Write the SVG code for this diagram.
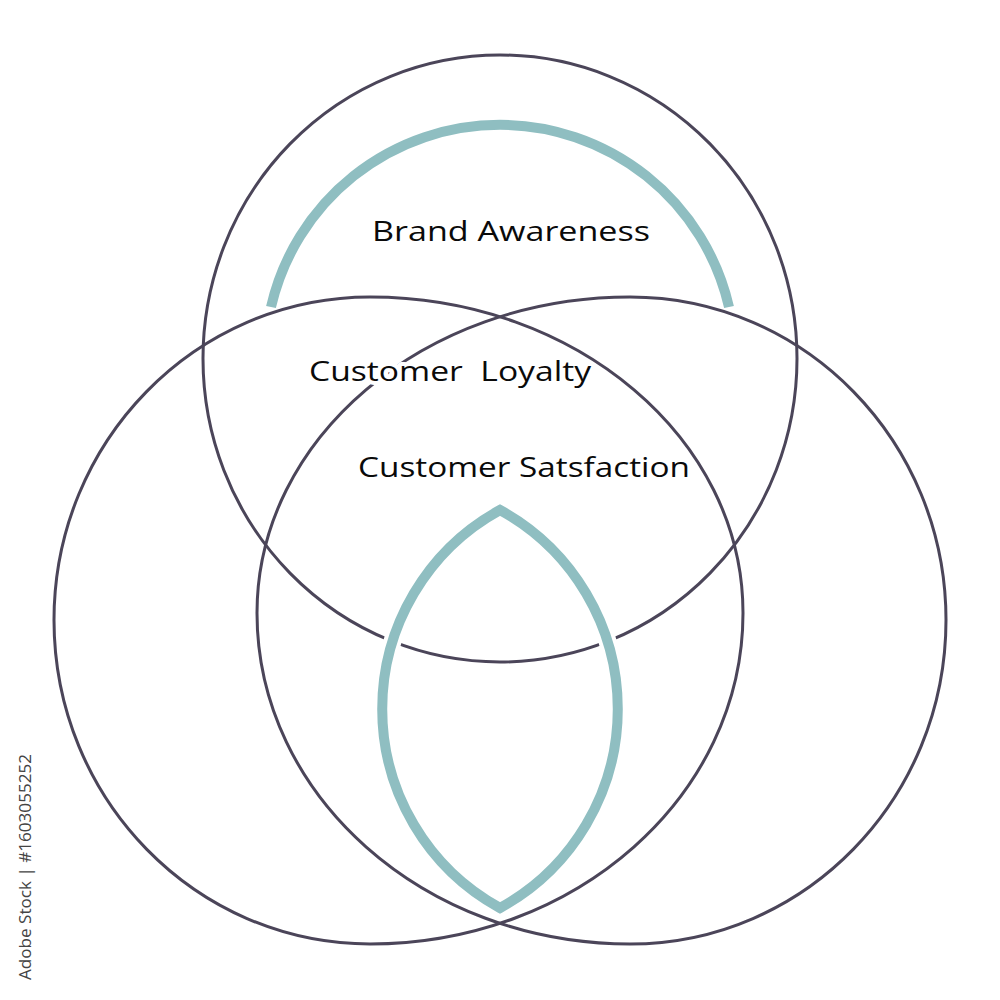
<svg xmlns="http://www.w3.org/2000/svg" width="1000" height="1000" viewBox="0 0 1000 1000">
  <style>
    .ring { fill: none; stroke: #4b4559; stroke-width: 3; }
    .halo { fill: none; stroke: #ffffff; stroke-width: 18; }
    .teal { fill: none; stroke: #8fbec1; stroke-width: 10; }
    .label { font-family: "Open Sans", "Noto Sans", sans-serif; font-size: 28px; font-weight: 500; fill: #0a0a0a; stroke: #ffffff; stroke-width: 8; paint-order: stroke; stroke-linejoin: round; }
    .mark { font-family: "Open Sans", "Liberation Sans", sans-serif; font-size: 17px; fill: #444444; }
  </style>
  <rect width="1000" height="1000" fill="#ffffff"/>

  <g id="shapes">
    <g id="top-circle">
      <ellipse class="ring" cx="500" cy="358.5" rx="297" ry="303.5"/>
    </g>
    <g id="left-circle">
      <path class="ring" d="M54,620 C54,441.6 195.5,297 370,297 C576,297 743,438.5 743,613 C743,795.8 576,944 370,944 C195.5,944 54,799 54,620 Z"/>
    </g>
    <g id="right-circle">
      <path class="ring" d="M946,620 C946,441.6 804.5,297 630,297 C424,297 257,438.5 257,613 C257,795.8 424,944 630,944 C804.5,944 946,799 946,620 Z"/>
    </g>
  </g>

  <g id="accents">
    <g id="brand-arc">
      <path class="teal" d="M271,307 A235,235 0 0 1 729,307"/>
    </g>
    <g id="satisfaction-lens">
      <path class="halo" d="M500,510 A227,227 0 0 0 500,908 A227,227 0 0 0 500,510 Z"/>
      <path class="teal" stroke-linejoin="miter" d="M500,510 A227,227 0 0 0 500,908 A227,227 0 0 0 500,510 Z"/>
    </g>
  </g>

  <g id="labels">
    <g id="brand-awareness"><text class="label" x="372" y="241" textLength="278" lengthAdjust="spacingAndGlyphs">Brand Awareness</text></g>
    <g id="customer-loyalty"><text class="label" x="309" y="381" textLength="282" lengthAdjust="spacingAndGlyphs" xml:space="preserve">Customer  Loyalty</text></g>
    <g id="customer-satisfaction"><text class="label" x="358" y="477" textLength="332" lengthAdjust="spacingAndGlyphs">Customer Satsfaction</text></g>
  </g>

  <text class="mark" transform="translate(31,980) rotate(-90)" textLength="226" lengthAdjust="spacingAndGlyphs">Adobe Stock | #1603055252</text>
</svg>
